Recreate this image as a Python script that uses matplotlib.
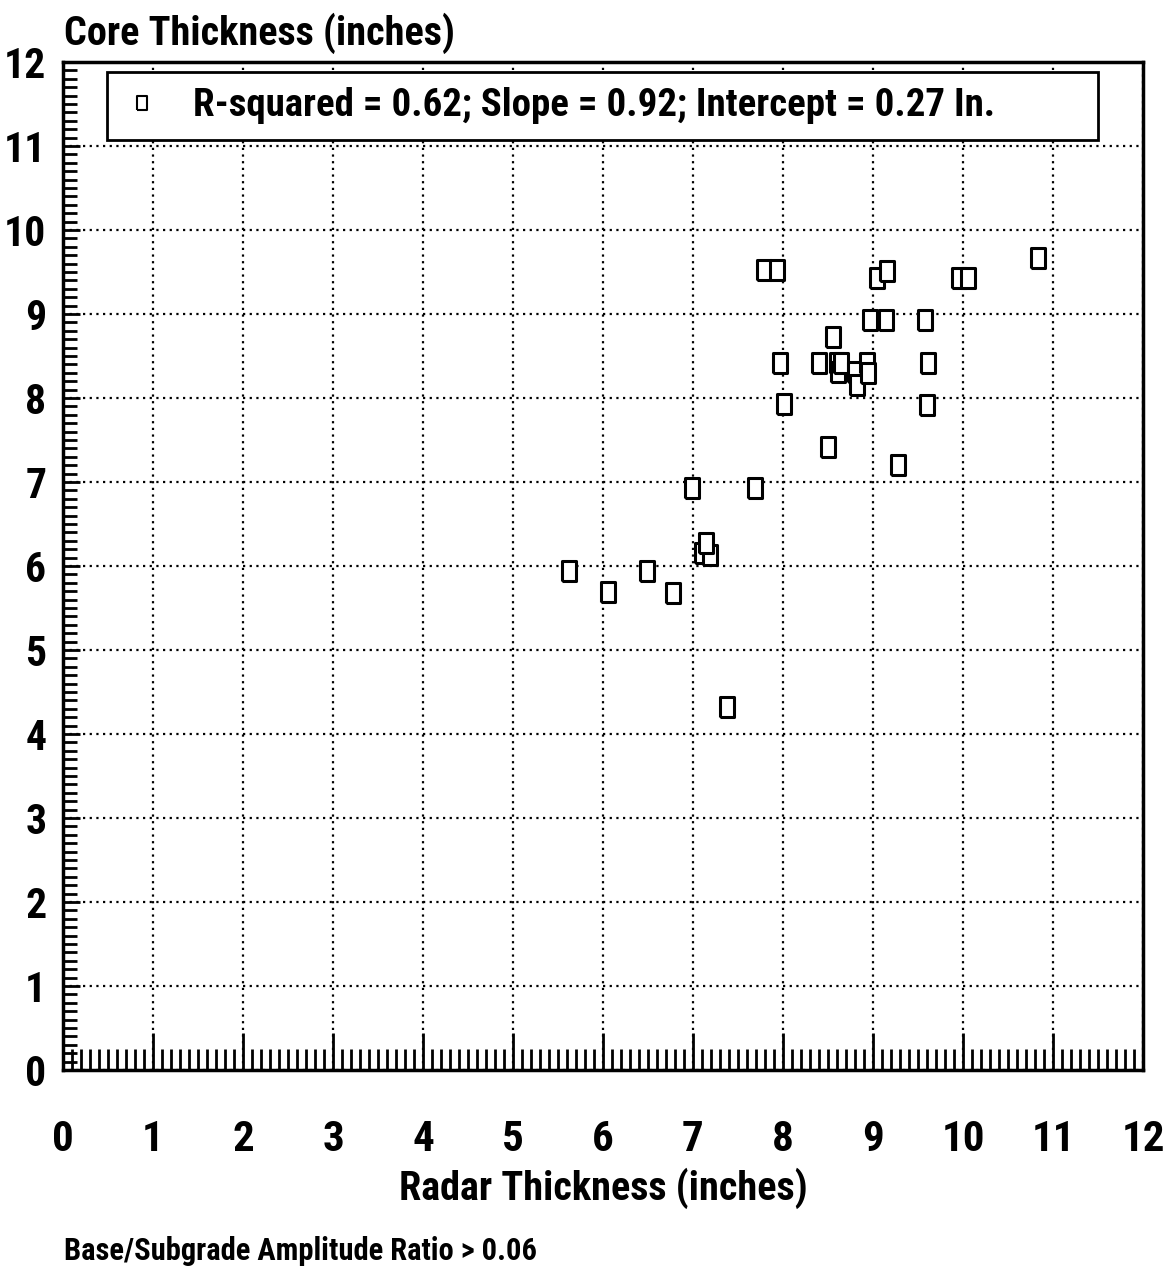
import matplotlib
matplotlib.use("Agg")
import matplotlib.pyplot as plt
from matplotlib.ticker import MultipleLocator

plt.rcParams['font.family'] = ['Roboto Condensed', 'DejaVu Sans']
plt.rcParams['font.weight'] = 'bold'

# Radar vs core thickness (inches)
radar_thickness = [5.62, 6.06, 6.49, 6.78, 6.99, 7.10, 7.19, 7.15, 7.38, 7.69,
                   7.79, 7.93, 7.97, 8.01, 8.40, 8.50, 8.56, 8.60, 8.61, 8.64,
                   8.80, 8.82, 8.93, 8.94, 8.97, 9.04, 9.16, 9.14, 9.28, 9.58,
                   9.61, 9.60, 9.96, 10.06, 10.83]
core_thickness = [5.94, 5.69, 5.94, 5.68, 6.93, 6.15, 6.13, 6.27, 4.32, 6.93,
                  9.52, 9.52, 8.42, 7.93, 8.42, 7.42, 8.73, 8.42, 8.31, 8.42,
                  8.31, 8.15, 8.42, 8.30, 8.93, 9.43, 9.51, 8.93, 7.20, 8.93,
                  8.42, 7.92, 9.43, 9.43, 9.67]

legend_label = "R-squared = 0.62; Slope = 0.92; Intercept = 0.27 In."
x_label = "Radar Thickness (inches)"
y_label = "Core Thickness (inches)"
footnote = "Base/Subgrade Amplitude Ratio > 0.06"
major_ticks = list(range(0, 13))

fig = plt.figure(figsize=(11.67, 12.71), dpi=100)
ax = fig.add_axes([0.054, 0.1582, 0.9254, 0.793])

# tall open rectangle marker
rect = [(-0.36, -0.5), (0.36, -0.5), (0.36, 0.5), (-0.36, 0.5), (-0.36, -0.5)]
ax.plot(radar_thickness, core_thickness, linestyle='none', marker=rect,
        markersize=14, markerfacecolor='white', markeredgecolor='black',
        markeredgewidth=2.2, zorder=5, label=legend_label)

ax.set_xlim(0, 12)
ax.set_ylim(0, 12)
ax.set_xticks(major_ticks)
ax.set_yticks(major_ticks)
ax.xaxis.set_minor_locator(MultipleLocator(0.1))
ax.yaxis.set_minor_locator(MultipleLocator(0.1))

ax.grid(True, which='major', color='black', linestyle=(0, (1, 2)),
        linewidth=1.6)
ax.set_axisbelow(True)

for s in ax.spines.values():
    s.set_linewidth(2.5)
    s.set_color('black')

ax.tick_params(axis='x', which='major', direction='in', length=27, width=2,
               labelsize=31, pad=35, top=False)
ax.tick_params(axis='x', which='minor', direction='in', length=15, width=2,
               top=False)
ax.tick_params(axis='y', which='major', direction='in', length=12, width=2,
               labelsize=30, pad=12, right=False)
ax.tick_params(axis='y', which='minor', direction='in', length=10, width=2,
               right=False)
for lab in ax.get_xticklabels() + ax.get_yticklabels():
    lab.set_fontweight('bold')

ax.set_xlabel(x_label, fontsize=29, fontweight='bold', labelpad=6)

fig.text(0.055, 0.965, y_label, fontsize=29, fontweight='bold',
         ha='left', va='baseline')
fig.text(0.055, 0.009, footnote, fontsize=22, fontweight='bold',
         ha='left', va='baseline')

leg = ax.legend(loc='center left', bbox_to_anchor=(0.041, 0.921, 0.917, 0.071),
                mode='expand', fancybox=False, framealpha=1, edgecolor='black',
                prop={'size': 28, 'weight': 'bold'}, markerscale=0.7,
                handlelength=1.0, handletextpad=0.8, borderaxespad=0)
leg.get_frame().set_linewidth(2)
for h in leg.legend_handles:
    h.set_markeredgewidth(1.5)

fig.savefig("out.png", dpi=100)
